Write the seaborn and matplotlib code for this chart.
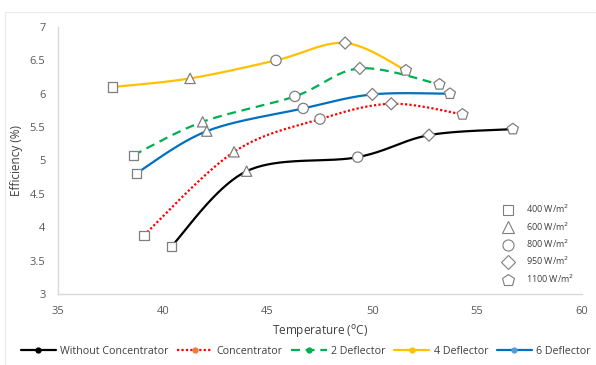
import numpy as np
import pandas as pd
import matplotlib
matplotlib.use('Agg')
import matplotlib.pyplot as plt
import seaborn as sns
from matplotlib.lines import Line2D
from matplotlib.patches import Rectangle

# ---------------- data ----------------
irradiance = ['400 W/m$^2$', '600 W/m$^2$', '800 W/m$^2$', '950 W/m$^2$', '1100 W/m$^2$']
series_names = ['Without Concentrator', 'Concentrator', '2 Deflector', '4 Deflector', '6 Deflector']

temp_without = [40.4, 44.0, 49.3, 52.7, 56.7]
eff_without = [3.71, 4.84, 5.05, 5.38, 5.47]
temp_conc = [39.1, 43.4, 47.5, 50.9, 54.3]
eff_conc = [3.88, 5.13, 5.62, 5.85, 5.69]
temp_2d = [38.6, 41.9, 46.3, 49.4, 53.2]
eff_2d = [5.08, 5.58, 5.96, 6.38, 6.14]
temp_4d = [37.6, 41.3, 45.4, 48.7, 51.6]
eff_4d = [6.10, 6.23, 6.50, 6.76, 6.35]
temp_6d = [38.75, 42.1, 46.7, 50.0, 53.7]
eff_6d = [4.81, 5.44, 5.78, 5.99, 6.00]

x_ticks = [35, 40, 45, 50, 55, 60]
y_ticks = [3, 3.5, 4, 4.5, 5, 5.5, 6, 6.5, 7]

temps = [temp_without, temp_conc, temp_2d, temp_4d, temp_6d]
effs = [eff_without, eff_conc, eff_2d, eff_4d, eff_6d]

colors = ['#000000', '#FF0000', '#00B050', '#FFC000', '#0070C0']
dot_colors = ['#000000', '#ED7D31', '#00B050', '#FFC000', '#5B9BD5']
styles = ['-', (0, (1, 1)), (0, (4, 2.6)), '-', '-']
marker_shapes = ['s', '^', 'o', 'D', 'p']
marker_areas = [45, 55, 55, 38, 70]
marker_msizes = [7.5, 8, 8, 6.8, 9]


def smooth(x, y, n=40):
    """Excel-style smoothed line (Bezier through points, Catmull-Rom tangents)."""
    pts = np.column_stack([x, y]).astype(float)
    P = np.vstack([pts[0], pts, pts[-1]])
    out = []
    t = np.linspace(0, 1, n)[:, None]
    for i in range(1, len(P) - 2):
        p0, p1, p2, p3 = P[i - 1], P[i], P[i + 1], P[i + 2]
        c1 = p1 + (p2 - p0) / 6.0
        c2 = p2 - (p3 - p1) / 6.0
        seg = (1 - t) ** 3 * p1 + 3 * (1 - t) ** 2 * t * c1 + 3 * (1 - t) * t ** 2 * c2 + t ** 3 * p2
        out.append(seg if i == 1 else seg[1:])
    return np.vstack(out)


rows = []
for name, tx, ey in zip(series_names, temps, effs):
    for irr, tv, ev in zip(irradiance, tx, ey):
        rows.append({'series': name, 'irradiance': irr, 'temp': tv, 'eff': ev})
df = pd.DataFrame(rows)

# ---------------- plot ----------------
sns.set_style('white')
plt.rcParams['font.family'] = ['Open Sans', 'DejaVu Sans']

fig = plt.figure(figsize=(5.96, 3.65), dpi=100)
ax = fig.add_axes([58 / 596, 1 - 294 / 365, 524 / 596, 267 / 365])

for name, tx, ey, c, ls in zip(series_names, temps, effs, colors, styles):
    sm = smooth(tx, ey)
    sns.lineplot(x=sm[:, 0], y=sm[:, 1], sort=False, estimator=None, color=c,
                 linewidth=1.6, ax=ax, zorder=2)
    ax.lines[-1].set_linestyle(ls)

sns.scatterplot(data=df, x='temp', y='eff', style='irradiance', size='irradiance',
                markers=dict(zip(irradiance, marker_shapes)),
                sizes=dict(zip(irradiance, marker_areas)),
                color='white', edgecolor='#7F7F7F', linewidth=0.9,
                legend=False, ax=ax, zorder=3)

ax.set_xlim(35, 60)
ax.set_ylim(3, 7)
ax.set_xticks(x_ticks)
ax.set_yticks(y_ticks)
ax.set_xticklabels([str(v) for v in x_ticks])
ax.set_yticklabels([f'{v:g}' for v in y_ticks])
ax.tick_params(length=0, labelsize=8, labelcolor='#595959', pad=9)
for s in ['top', 'right']:
    ax.spines[s].set_visible(False)
for s in ['left', 'bottom']:
    ax.spines[s].set_color('#D9D9D9')
    ax.spines[s].set_linewidth(1.0)

ax.set_xlabel('Temperature ($^{\\mathrm{o}}$C)', fontsize=8.5, color='#404040', labelpad=4)
ax.set_ylabel('Efficiency (%)', fontsize=8.5, color='#404040', labelpad=5)

# marker legend
shape_handles = [Line2D([], [], linestyle='none', marker=m, markersize=ms,
                        markerfacecolor='white', markeredgecolor='#7F7F7F',
                        markeredgewidth=0.8, label=l)
                 for m, ms, l in zip(marker_shapes, marker_msizes, irradiance)]
ax.legend(handles=shape_handles, loc='upper left', bbox_to_anchor=(0.835, 0.355),
          frameon=False, fontsize=6.5, labelcolor='#404040', handletextpad=1.0,
          labelspacing=0.55, borderaxespad=0)

# series legend at bottom
line_handles = [Line2D([], [], color=c, linestyle=ls, linewidth=1.6, marker='o',
                       markersize=3.5, markerfacecolor=dc, markeredgecolor=dc,
                       label=n)
                for n, c, ls, dc in zip(series_names, colors, styles, dot_colors)]
fig.legend(handles=line_handles, loc='lower center', bbox_to_anchor=(0.513, 0.005),
           ncol=5, frameon=False, fontsize=7.7, labelcolor='#404040',
           handlelength=3.3, handletextpad=0.4, columnspacing=0.8, borderaxespad=0.2)

fig.add_artist(Rectangle((5 / 596, 0), 1 - 5 / 596, 1 - 12 / 365,
                         transform=fig.transFigure, fill=False,
                         edgecolor='#EBEBEB', linewidth=0.8))

fig.savefig('out.png', dpi=100)
